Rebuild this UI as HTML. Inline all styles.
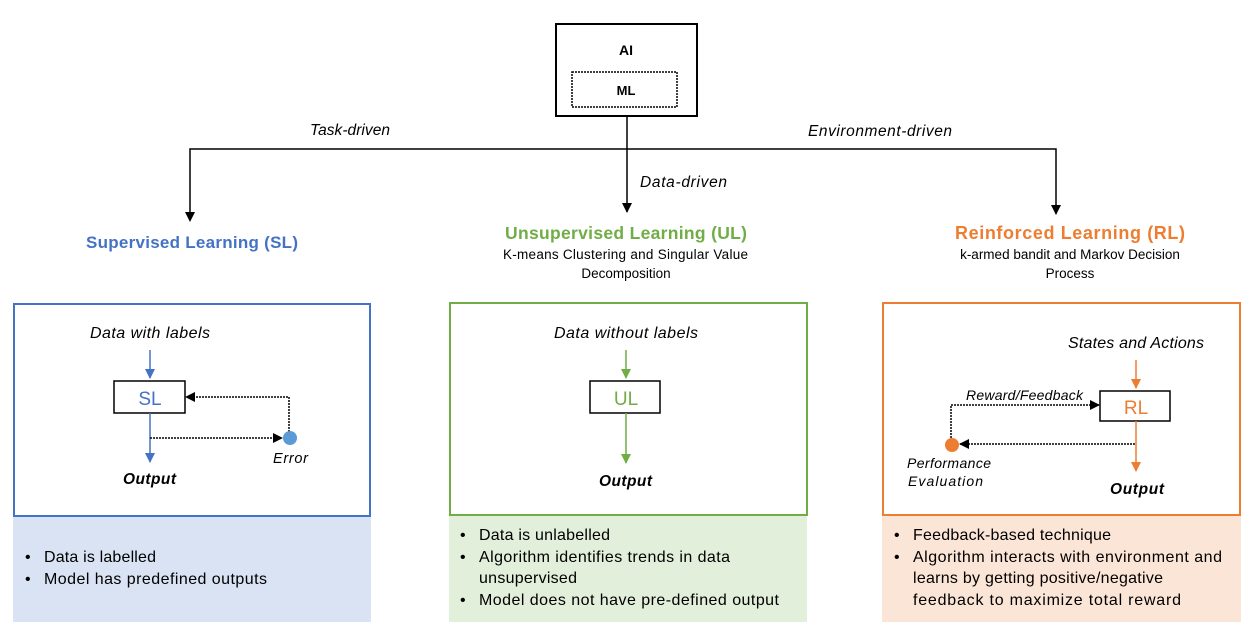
<!DOCTYPE html>
<html><head><meta charset="utf-8"><style>
html,body{margin:0;padding:0;background:#fff;}
svg{display:block;font-family:"Liberation Sans",sans-serif;}
</style></head><body>
<svg width="1243" height="626" viewBox="0 0 1243 626" xmlns="http://www.w3.org/2000/svg">
<defs>
<marker id="abl" markerWidth="10" markerHeight="10" refX="9" refY="5" orient="auto" markerUnits="userSpaceOnUse"><path d="M0,0 L10,5 L0,10z" fill="#4472c4"/></marker>
<marker id="agr" markerWidth="10" markerHeight="10" refX="9" refY="5" orient="auto" markerUnits="userSpaceOnUse"><path d="M0,0 L10,5 L0,10z" fill="#70ad47"/></marker>
<marker id="aor" markerWidth="10" markerHeight="10" refX="9" refY="5" orient="auto" markerUnits="userSpaceOnUse"><path d="M0,0 L10,5 L0,10z" fill="#ed7d31"/></marker>
<marker id="abk" markerWidth="10" markerHeight="10" refX="9" refY="5" orient="auto" markerUnits="userSpaceOnUse"><path d="M0,0 L10,5 L0,10z" fill="#000"/></marker>
</defs>
<rect x="556" y="24" width="141" height="92" fill="#fff" stroke="#000" stroke-width="2"/>
<text x="626" y="55" text-anchor="middle" font-weight="bold" font-size="14">AI</text>
<rect x="572" y="72" width="105" height="35" fill="none" stroke="#000" stroke-width="1.5" stroke-dasharray="2,1"/>
<text x="626" y="95" text-anchor="middle" font-weight="bold" font-size="13">ML</text>
<line x1="627" y1="116" x2="627" y2="212" stroke="#000" stroke-width="1.5" marker-end="url(#abk)"/>
<polyline points="190,220 190,149 1056,149 1056,214" fill="none" stroke="#000" stroke-width="1.5"/>
<path d="M185,212 L195,212 L190,222z" fill="#000"/>
<path d="M1051,205 L1061,205 L1056,215z" fill="#000"/>
<g font-style="italic" font-size="15.5">
<text x="310" y="135" textLength="80">Task-driven</text>
<text x="808" y="136" textLength="144">Environment-driven</text>
<text x="640" y="187" textLength="87">Data-driven</text>
</g>
<text x="86" y="248" font-weight="bold" font-size="17" fill="#4472c4" textLength="212">Supervised Learning (SL)</text>
<text x="505" y="239" font-weight="bold" font-size="17.5" fill="#70ad47" textLength="242">Unsupervised Learning (UL)</text>
<text x="503" y="259" font-size="13.5" textLength="245">K-means Clustering and Singular Value</text>
<text x="626" y="278" text-anchor="middle" font-size="13.5">Decomposition</text>
<text x="955" y="239" font-weight="bold" font-size="18" fill="#ed7d31" textLength="230">Reinforced Learning (RL)</text>
<text x="1070" y="259" text-anchor="middle" font-size="13.5">k-armed bandit and Markov Decision</text>
<text x="1070" y="278" text-anchor="middle" font-size="13.5">Process</text>

<rect x="13" y="517" width="358" height="105" fill="#dae3f3"/>
<rect x="449" y="516" width="358" height="106" fill="#e2efda"/>
<rect x="882" y="516" width="359" height="106" fill="#fbe5d6"/>
<rect x="14" y="304" width="356" height="212" fill="#fff" stroke="#4472c4" stroke-width="2"/>
<rect x="450" y="303" width="357" height="212" fill="#fff" stroke="#70ad47" stroke-width="2"/>
<rect x="883" y="303" width="357" height="212" fill="#fff" stroke="#ed7d31" stroke-width="2"/>

<!-- SL -->
<text x="90" y="338" font-style="italic" font-size="16" textLength="120">Data with labels</text>
<line x1="150" y1="350" x2="150" y2="378" stroke="#4472c4" stroke-width="1.5" marker-end="url(#abl)"/>
<rect x="114" y="381" width="71" height="32" fill="#fff" stroke="#000" stroke-width="1.5"/>
<text x="150" y="405" text-anchor="middle" font-size="19" fill="#4472c4">SL</text>
<line x1="150" y1="413" x2="150" y2="462" stroke="#4472c4" stroke-width="1.5" marker-end="url(#abl)"/>
<polyline points="150,438 282,438" fill="none" stroke="#000" stroke-width="1.5" stroke-dasharray="2,1" marker-end="url(#abk)"/>
<polyline points="289,432 289,397 186,397" fill="none" stroke="#000" stroke-width="1.5" stroke-dasharray="2,1" marker-end="url(#abk)"/>
<circle cx="290" cy="438" r="7" fill="#5b9bd5"/>
<text x="273" y="463" font-style="italic" font-size="14.5" textLength="35">Error</text>
<text x="123" y="484" font-style="italic" font-weight="bold" font-size="15.5" textLength="53">Output</text>
<g font-size="16">
<text x="25" y="562">•</text><text x="44" y="562" textLength="112">Data is labelled</text>
<text x="25" y="584">•</text><text x="44" y="584" textLength="223">Model has predefined outputs</text>
</g>

<!-- UL -->
<text x="554" y="338" font-style="italic" font-size="16" textLength="144">Data without labels</text>
<line x1="626" y1="350" x2="626" y2="378" stroke="#70ad47" stroke-width="1.5" marker-end="url(#agr)"/>
<rect x="590" y="381" width="70" height="32" fill="#fff" stroke="#000" stroke-width="1.5"/>
<text x="626" y="405" text-anchor="middle" font-size="19" fill="#70ad47">UL</text>
<line x1="626" y1="413" x2="626" y2="463" stroke="#70ad47" stroke-width="1.5" marker-end="url(#agr)"/>
<text x="599" y="486" font-style="italic" font-weight="bold" font-size="15.5" textLength="53">Output</text>
<g font-size="16">
<text x="460" y="540">•</text><text x="479" y="540" textLength="131">Data is unlabelled</text>
<text x="460" y="562">•</text><text x="479" y="562" textLength="251">Algorithm identifies trends in data</text>
<text x="479" y="583" textLength="98">unsupervised</text>
<text x="460" y="605">•</text><text x="479" y="605" textLength="300">Model does not have pre-defined output</text>
</g>

<!-- RL -->
<text x="1068" y="348" font-style="italic" font-size="16" textLength="136">States and Actions</text>
<line x1="1136" y1="360" x2="1136" y2="388" stroke="#ed7d31" stroke-width="1.5" marker-end="url(#aor)"/>
<rect x="1100" y="391" width="70" height="30" fill="#fff" stroke="#000" stroke-width="1.5"/>
<text x="1136" y="414" text-anchor="middle" font-size="19" fill="#ed7d31">RL</text>
<line x1="1136" y1="421" x2="1136" y2="471" stroke="#ed7d31" stroke-width="1.5" marker-end="url(#aor)"/>
<polyline points="1135,444 960,444" fill="none" stroke="#000" stroke-width="1.5" stroke-dasharray="2,1" marker-end="url(#abk)"/>
<polyline points="951,438 951,405 1099,405" fill="none" stroke="#000" stroke-width="1.5" stroke-dasharray="2,1" marker-end="url(#abk)"/>
<circle cx="952" cy="445" r="7" fill="#ed7d31"/>
<text x="966" y="400" font-style="italic" font-size="14" textLength="117">Reward/Feedback</text>
<text x="907" y="468" font-style="italic" font-size="14" textLength="84">Performance</text>
<text x="908" y="486" font-style="italic" font-size="14" textLength="75">Evaluation</text>
<text x="1110" y="494" font-style="italic" font-weight="bold" font-size="15.5" textLength="54">Output</text>
<g font-size="16">
<text x="894" y="540">•</text><text x="913" y="540" textLength="198">Feedback-based technique</text>
<text x="894" y="562">•</text><text x="913" y="562" textLength="309">Algorithm interacts with environment and</text>
<text x="913" y="583" textLength="250">learns by getting positive/negative</text>
<text x="913" y="605" textLength="268">feedback to maximize total reward</text>
</g>
</svg>
</body></html>
